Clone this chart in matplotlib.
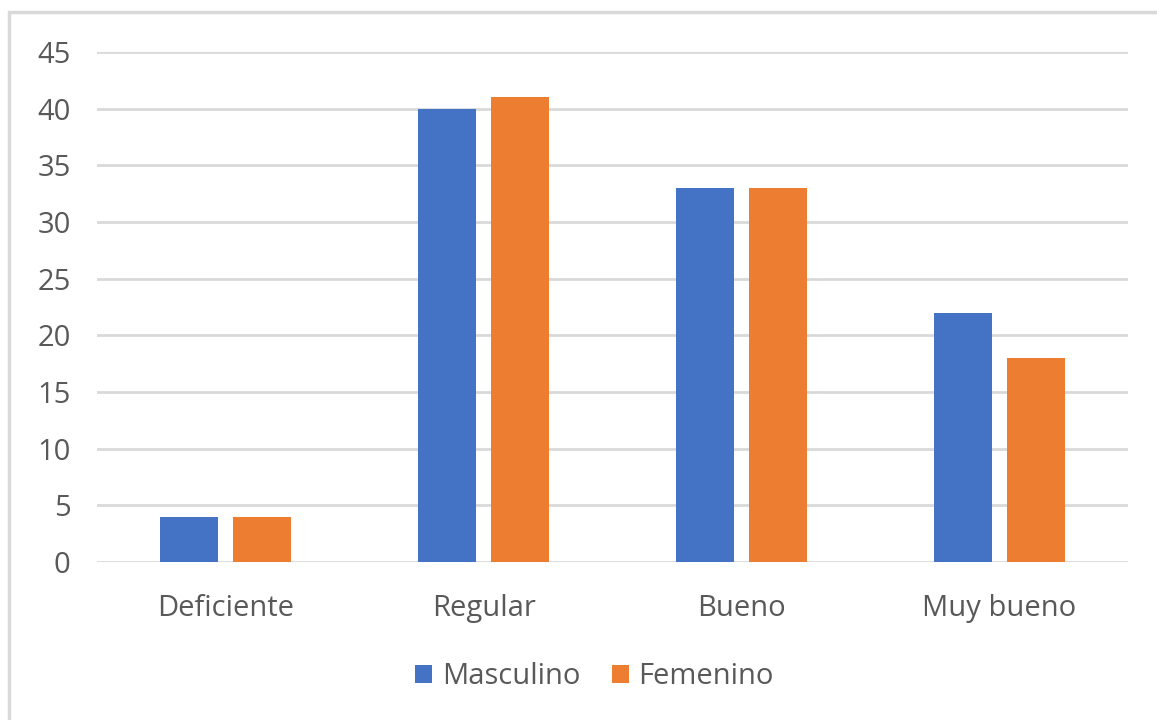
import matplotlib
matplotlib.use('Agg')
import matplotlib.pyplot as plt
import numpy as np
from matplotlib.patches import Rectangle

categorias = ['Deficiente', 'Regular', 'Bueno', 'Muy bueno']
masculino = [4, 40, 33, 22]
femenino = [4, 41, 33, 18]
series = ['Masculino', 'Femenino']
colores = ['#4472C4', '#ED7D31']

plt.rcParams['font.family'] = ['Open Sans', 'DejaVu Sans']

fig = plt.figure(figsize=(11.57, 7.2), dpi=100)
ax = fig.add_axes([97 / 1157, 1 - 562 / 720, (1128 - 97) / 1157, (562 - 52) / 720])

x = np.arange(len(categorias))
ancho = 0.225
desp = 0.1415
ax.bar(x - desp, masculino, ancho, color=colores[0], label=series[0], zorder=3)
ax.bar(x + desp, femenino, ancho, color=colores[1], label=series[1], zorder=3)

ax.set_xlim(-0.5, 3.5)
ax.set_ylim(0, 45)
ax.set_yticks(range(0, 46, 5))
ax.set_xticks(x)
ax.set_xticklabels(categorias)
ax.yaxis.grid(True, color='#d9d9d9', linewidth=2, zorder=0)
ax.set_axisbelow(True)
for s in ax.spines.values():
    s.set_visible(False)
ax.tick_params(axis='both', length=0, labelsize=21, labelcolor='#595959')
ax.tick_params(axis='y', pad=19)
ax.tick_params(axis='x', pad=23)

leg = fig.legend(loc='center', bbox_to_anchor=(594.5 / 1157, 1 - 677 / 720), ncol=2, frameon=False,
                 fontsize=21, handlelength=0.58, handleheight=0.58, columnspacing=1.08,
                 handletextpad=0.34)
for t in leg.get_texts():
    t.set_color('#595959')

# borde del gráfico
fig.patches.append(Rectangle((9 / 1157, -0.1), 1.2, 1 - 12 / 720 + 0.1, transform=fig.transFigure,
                             fill=False, edgecolor='#d9d9d9', linewidth=2.5))

fig.savefig('out.png', dpi=100)
